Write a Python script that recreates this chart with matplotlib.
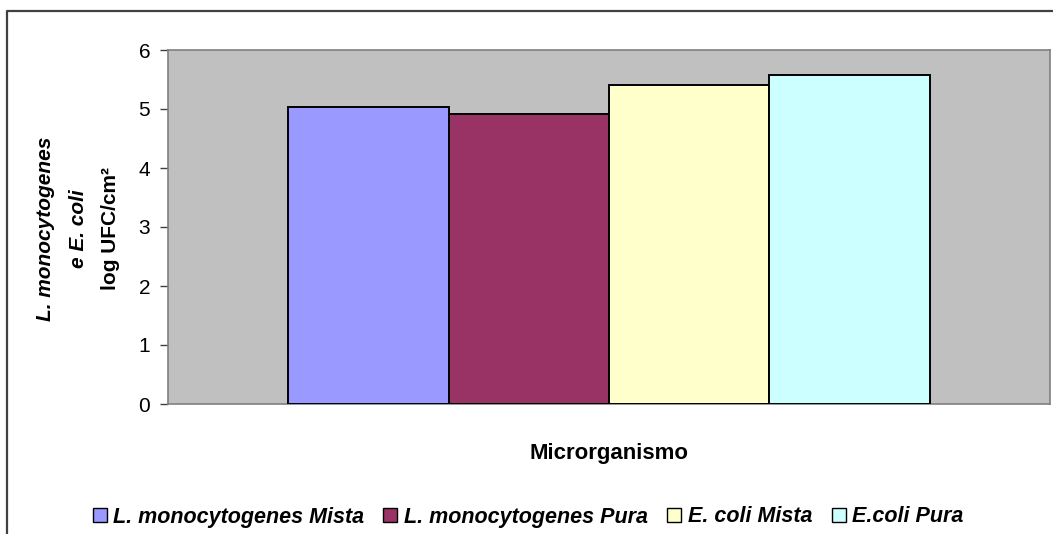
import matplotlib
matplotlib.use("Agg")
import matplotlib.pyplot as plt
from matplotlib.patches import Patch
from matplotlib.lines import Line2D

plt.rcParams['font.family'] = ['Liberation Sans', 'DejaVu Sans']

# Data
series = ["L. monocytogenes Mista", "L. monocytogenes Pura", "E. coli Mista", "E.coli Pura"]
values = [5.03, 4.91, 5.40, 5.58]
colors = ["#9999FF", "#993366", "#FFFFCC", "#CCFFFF"]
yticks = [0, 1, 2, 3, 4, 5, 6]

W, H = 1053, 534
fig = plt.figure(figsize=(W / 100, H / 100), dpi=100)

# Outer chart-area frame (left and top edges)
fig.add_artist(Line2D([7 / W, 7 / W, 1.0], [0.0, 1 - 11 / H, 1 - 11 / H],
                      transform=fig.transFigure, color="#404040", lw=1.6))

left, right, top, bottom = 168, 1050, 50, 404
ax = fig.add_axes([left / W, 1 - bottom / H, (right - left) / W, (bottom - top) / H])
ax.set_facecolor("#C0C0C0")

xs = list(range(len(values)))
ax.bar(xs, values, width=1.0, color=colors, edgecolor="black", linewidth=1.4, zorder=3)

ax.set_xlim(-1.25, 4.25)
ax.set_ylim(0, 6)
ax.set_yticks(yticks)
ax.set_xticks([])
ax.tick_params(axis="y", length=5.8, width=1, color="#404040", pad=7, labelsize=15)
for s in ax.spines.values():
    s.set_color("#808080")
    s.set_linewidth(1.2)

# Y axis title, three lines
yc = 1 - 229 / H
fig.text(46 / W, yc, "L. monocytogenes", rotation=90, ha="center", va="center",
         fontsize=15, fontweight="bold", fontstyle="italic")
fig.text(78 / W, yc, "e E. coli", rotation=90, ha="center", va="center",
         fontsize=15, fontweight="bold", fontstyle="italic")
fig.text(110 / W, yc, "log UFC/cm²", rotation=90, ha="center", va="center",
         fontsize=15, fontweight="bold")

# X axis title
fig.text(609 / W, 1 - 453 / H, "Microrganismo", ha="center", va="center",
         fontsize=16, fontweight="bold")

# Legend
handles = [Patch(facecolor=c, edgecolor="black", linewidth=1.0) for c in colors]
leg = fig.legend(handles, series, loc="center", bbox_to_anchor=(528 / W, 1 - 517 / H),
                 ncol=4, frameon=False, handlelength=0.65, handleheight=0.65,
                 handletextpad=0.3, columnspacing=0.9,
                 prop={"size": 15.5, "weight": "bold", "style": "italic"})

fig.savefig("out.png", dpi=100)
